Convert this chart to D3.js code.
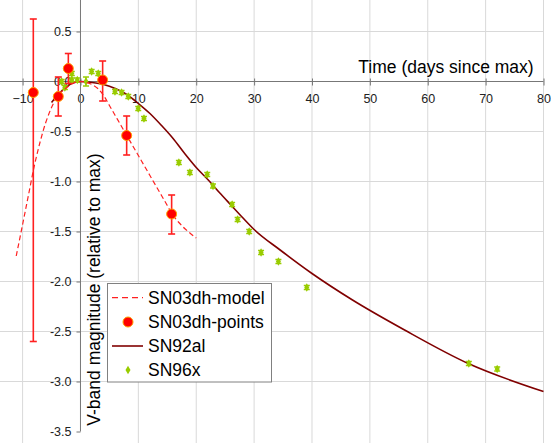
<!DOCTYPE html>
<html><head><meta charset="utf-8">
<script src="https://cdn.jsdelivr.net/npm/d3@7"></script>
<style>body{margin:0;background:#fff}svg{display:block;font-family:"Liberation Sans",Arial,sans-serif}</style>
</head><body><svg id="c" width="551" height="443"></svg>
<script>
// SN03dh model (dashed)
const modelT = [-11.1,-10,-9,-8,-7,-6,-5,-4,-3,-2,-1,0,1,2,3,4,5,6,7,8,9,10,11,12,13,14,15,16,17,18,19,20];
const modelV = [-1.745,-1.43,-1.14,-0.85,-0.61,-0.41,-0.26,-0.15,-0.09,-0.045,-0.01,0,-0.01,-0.03,-0.07,-0.14,-0.24,-0.34,-0.44,-0.54,-0.64,-0.74,-0.84,-0.94,-1.04,-1.14,-1.24,-1.34,-1.41,-1.47,-1.52,-1.565];
// SN03dh points with error bars
const ptsT = [-8.15,-3.83,-2.1,3.83,7.98,15.75];
const ptsV = [-0.11,-0.15,0.13,0.015,-0.54,-1.325];
const ptsErrHi = [0.735,0.195,0.15,0.19,0.195,0.19];
const ptsErrLo = [2.49,0.195,0.15,0.21,0.195,0.2];
// SN92al line
const alT = [-5,-4,-3,-2,-1,0,2,4,6,8,10,12,14,16,18,20,22,24,26,28,30,34.5,40,47,56,67,80];
const alV = [-0.21,-0.14,-0.08,-0.035,-0.01,0,-0.01,-0.03,-0.07,-0.13,-0.22,-0.32,-0.44,-0.57,-0.72,-0.86,-0.98,-1.11,-1.235,-1.36,-1.48,-1.685,-1.92,-2.185,-2.485,-2.82,-3.1];
// SN96x points
const xT = [-3.25,-2.7,-1.5,-1.5,-0.55,0.95,1.93,3.07,5.96,7.1,8.26,9.98,10.97,17.0,18.9,21.9,22.9,26.2,27.15,29.15,31.2,34.2,39.1,67.1,72.0];
const xV = [0.0,-0.06,0.08,0.015,0.015,0.0,0.1,0.08,-0.1,-0.11,-0.15,-0.27,-0.37,-0.81,-0.91,-0.93,-1.045,-1.23,-1.38,-1.5,-1.71,-1.8,-2.06,-2.82,-2.875];
const xErr = [0.02,0.02,0.02,0.02,0.02,0.045,0.02,0.02,0.02,0.02,0.02,0.02,0.02,0.02,0.02,0.02,0.02,0.02,0.02,0.02,0.02,0.02,0.02,0.02,0.02];
const xTicks = [-10,0,10,20,30,40,50,60,70,80];
const yTicks = [0.5,0,-0.5,-1,-1.5,-2,-2.5,-3,-3.5];
const legendLabels = ["SN03dh-model","SN03dh-points","SN92al","SN96x"];

const svg = d3.select("#c");
const x = d3.scaleLinear().domain([-10,80]).range([22.6,543.5]);
const y = d3.scaleLinear().domain([0.5,-3.5]).range([31.5,431.5]);
const grid = "#d9d9d9", axisC = "#777";

// gridlines
svg.append("g").selectAll("line").data(xTicks.filter(d=>d!==0)).join("line")
  .attr("x1",d=>x(d)).attr("x2",d=>x(d)).attr("y1",0).attr("y2",443)
  .attr("stroke",grid).attr("stroke-width",1);
svg.append("g").selectAll("line").data(yTicks.filter(d=>d!==0 && d!==-3.5)).join("line")
  .attr("x1",0).attr("x2",x(80)).attr("y1",d=>y(d)).attr("y2",d=>y(d))
  .attr("stroke",grid).attr("stroke-width",1);

// axes
const xAxis = svg.append("g").attr("transform",`translate(0,${y(0)})`)
  .call(d3.axisBottom(x).tickValues(xTicks).tickSize(4).tickSizeOuter(0).tickFormat(d3.format("d")));
xAxis.select(".domain").attr("d",`M0,0H${x(80)}`).attr("stroke",axisC);
xAxis.selectAll(".tick line").attr("stroke",axisC).attr("y1",-3);
xAxis.selectAll(".tick text").attr("font-size","12.5px").attr("fill","#222").attr("y",13)
  .attr("font-family","Liberation Sans, Arial, sans-serif");

const yAxis = svg.append("g").attr("transform",`translate(${x(0)},0)`)
  .call(d3.axisLeft(y).tickValues(yTicks).tickSize(4).tickSizeOuter(0).tickFormat(d3.format(".1f")));
yAxis.select(".domain").attr("d",`M0,0V${y(-3.5)}`).attr("stroke",axisC);
yAxis.selectAll(".tick line").attr("stroke",axisC);
yAxis.selectAll(".tick text").attr("font-size","12.5px").attr("fill","#222").attr("x",-9)
  .attr("font-family","Liberation Sans, Arial, sans-serif")
  .text(d=>d3.format(".1f")(d).replace("−","-"));

// titles
svg.append("text").attr("x",446).attr("y",67).attr("text-anchor","middle").attr("dominant-baseline","central")
  .attr("font-size","17.5px").attr("fill","#000").text("Time (days since max)");
svg.append("text").attr("transform","translate(93.5,289.5) rotate(-90)").attr("text-anchor","middle")
  .attr("dominant-baseline","central").attr("font-size","17.5px").attr("fill","#000")
  .text("V-band magnitude (relative to max)");

// SN92al
const line = d3.line().x(d=>x(d[0])).y(d=>y(d[1])).curve(d3.curveMonotoneX);
svg.append("path").attr("d",line(alT.map((t,i)=>[t,alV[i]]))).attr("fill","none")
  .attr("stroke","#800000").attr("stroke-width",1.6);

// SN96x
const green = "#99cc00";
const gx = svg.append("g");
xT.forEach((t,i)=>{
  const cx = x(t), top = y(xV[i]+xErr[i]), bot = y(xV[i]-xErr[i]);
  gx.append("line").attr("x1",cx).attr("x2",cx).attr("y1",top).attr("y2",bot).attr("stroke",green).attr("stroke-width",1.5);
  gx.append("line").attr("x1",cx-3).attr("x2",cx+3).attr("y1",top).attr("y2",top).attr("stroke",green).attr("stroke-width",1.5);
  gx.append("line").attr("x1",cx-3).attr("x2",cx+3).attr("y1",bot).attr("y2",bot).attr("stroke",green).attr("stroke-width",1.5);
  gx.append("path").attr("d",d3.symbol(d3.symbolDiamond,22)()).attr("transform",`translate(${cx},${y(xV[i])})`).attr("fill",green);
});

// SN03dh model
const line2 = d3.line().x(d=>x(d[0])).y(d=>y(d[1])).curve(d3.curveCatmullRom);
svg.append("path").attr("d",line2(modelT.map((t,i)=>[t,modelV[i]]))).attr("fill","none")
  .attr("stroke","#ff2020").attr("stroke-width",1.2).attr("stroke-dasharray","5,3");

// SN03dh points
const gp = svg.append("g");
ptsT.forEach((t,i)=>{
  const cx = x(t), top = y(ptsV[i]+ptsErrHi[i]), bot = y(ptsV[i]-ptsErrLo[i]);
  gp.append("line").attr("x1",cx).attr("x2",cx).attr("y1",top).attr("y2",bot).attr("stroke","#ff2020").attr("stroke-width",1.6);
  gp.append("line").attr("x1",cx-3.5).attr("x2",cx+3.5).attr("y1",top).attr("y2",top).attr("stroke","#ff2020").attr("stroke-width",1.6);
  gp.append("line").attr("x1",cx-3.5).attr("x2",cx+3.5).attr("y1",bot).attr("y2",bot).attr("stroke","#ff2020").attr("stroke-width",1.6);
});
gp.selectAll("circle").data(ptsT).join("circle").attr("cx",d=>x(d)).attr("cy",(d,i)=>y(ptsV[i])).attr("r",5)
  .attr("fill","#ff0000").attr("stroke","#ffa000").attr("stroke-width",1);

// legend
const lg = svg.append("g");
lg.append("rect").attr("x",107.5).attr("y",283.5).attr("width",164).attr("height",98.5)
  .attr("fill","#fff").attr("stroke","#808080").attr("stroke-width",1);
const ly = [297.7,322,346,370];
legendLabels.forEach((l,i)=>{
  lg.append("text").attr("x",148).attr("y",ly[i]).attr("dominant-baseline","central")
    .attr("font-size","17.5px").attr("fill","#000").text(l);
});
lg.append("line").attr("x1",112).attr("x2",143).attr("y1",ly[0]).attr("y2",ly[0]).attr("stroke","#ff2020").attr("stroke-width",1.2).attr("stroke-dasharray","6,4");
lg.append("circle").attr("cx",128).attr("cy",ly[1]).attr("r",5).attr("fill","#ff0000").attr("stroke","#ffa000");
lg.append("line").attr("x1",112).attr("x2",143).attr("y1",ly[2]).attr("y2",ly[2]).attr("stroke","#800000").attr("stroke-width",1.6);
lg.append("path").attr("d",d3.symbol(d3.symbolDiamond,22)()).attr("transform",`translate(128,${ly[3]})`).attr("fill",green);
</script></body></html>
